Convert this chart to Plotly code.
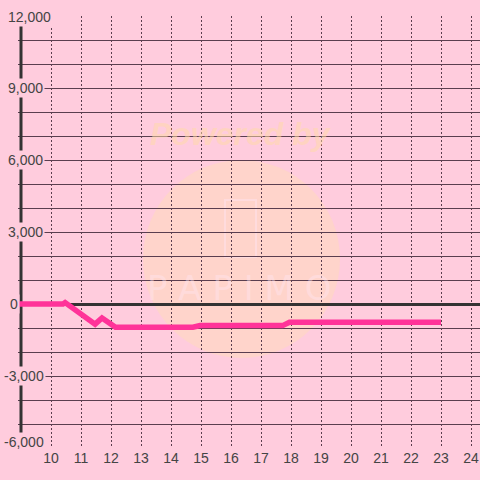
import plotly.graph_objects as go

# ---- data ----
line_x = [8.9, 10.4, 10.47, 11.47, 11.7, 12.15, 14.73, 14.97, 17.72, 17.95, 23.0]
line_y = [0, 0, 60, -840, -580, -970, -970, -900, -900, -760, -760]

x_ticks = list(range(10, 25))
y_label_vals = [12000, 9000, 6000, 3000, 0, -3000, -6000]
y_label_text = ["12,000", "9,000", "6,000", "3,000", "0", "-3,000", "-6,000"]

BG = "#ffccdd"
GRID = "#5a3e4f"
TXT = "#444444"
PINK = "#ff3399"
FONT = "Liberation Sans, Arial, sans-serif"

fig = go.Figure()
fig.add_trace(go.Scatter(x=line_x, y=line_y, mode="lines",
                         line=dict(color=PINK, width=5.5), hoverinfo="skip",
                         cliponaxis=True))

W, H = 480, 480
ML, MR, MT, MB = 18, 0, 16, 32
plot_w = W - ML - MR
plot_h = H - MT - MB


def px_x(p):
    return (p - ML) / plot_w


def px_y(p):
    return (H - MB - p) / plot_h


annotations = []
for v, t in zip(y_label_vals, y_label_text):
    left_px = 6 if not t.startswith("-") else 2
    if t == "0":
        left_px = 8
    annotations.append(dict(
        x=px_x(left_px), xref="paper", xanchor="left",
        y=v, yref="y", yanchor="middle", text=t, showarrow=False,
        yshift=6 if v == min(y_label_vals) else (-1 if v == max(y_label_vals) else 0),
        font=dict(family=FONT, size=14, color=TXT),
        bgcolor=BG, borderpad=1))

# faint watermark
annotations.append(dict(x=px_x(241), y=px_y(134),
                        xref="paper", yref="paper", xanchor="center", yanchor="middle",
                        text="<b><i>Powered by</i></b>", showarrow=False,
                        font=dict(family=FONT, size=32, color="rgba(255,218,170,0.55)")))
annotations.append(dict(x=px_x(239), y=px_y(288),
                        xref="paper", yref="paper", xanchor="center", yanchor="middle",
                        text="P A P I M O", showarrow=False,
                        font=dict(family="DejaVu Sans", size=34, color="rgba(255,228,240,0.45)")))

shapes = [
    dict(type="circle", xref="paper", yref="paper",
         x0=px_x(143), x1=px_x(340), y0=px_y(358), y1=px_y(160),
         fillcolor="rgba(255,225,170,0.35)", line=dict(width=0), layer="below"),
    dict(type="rect", xref="paper", yref="paper",
         x0=px_x(225), x1=px_x(256), y0=px_y(257), y1=px_y(200),
         fillcolor="rgba(0,0,0,0)", line=dict(width=2, color="rgba(255,225,240,0.5)"),
         layer="below"),
    dict(type="line", xref="x", yref="y", x0=9, x1=9, y0=-6000, y1=12000,
         line=dict(color="#333333", width=3), layer="between"),
]

fig.update_layout(
    width=W, height=H,
    margin=dict(l=ML, r=MR, t=MT, b=MB, pad=0),
    paper_bgcolor=BG, plot_bgcolor=BG,
    showlegend=False,
    annotations=annotations,
    shapes=shapes,
    xaxis=dict(range=[8.9, 24.3], tickvals=x_ticks, ticktext=[str(v) for v in x_ticks],
               showgrid=True, gridcolor=GRID, gridwidth=1, griddash="2px,2px",
               zeroline=False, showline=False, ticks="", ticklen=0,
               tickfont=dict(family=FONT, size=14, color=TXT), fixedrange=True),
    yaxis=dict(range=[-6000, 12000], dtick=1000, tick0=0,
               showgrid=True, gridcolor=GRID, gridwidth=1,
               zeroline=True, zerolinecolor="#333333", zerolinewidth=3,
               showticklabels=False, showline=False, ticks="", fixedrange=True),
)

fig.write_html("out.html", config={"displayModeBar": False},
               post_script="document.body.style.margin='0px';"
                           "document.body.style.background='#ffccdd';")
